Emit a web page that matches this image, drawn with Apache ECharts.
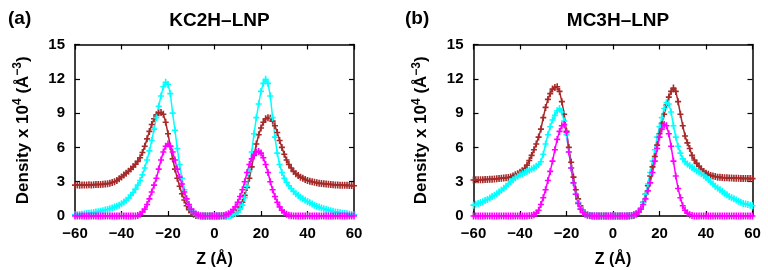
<!DOCTYPE html>
<html>
<head>
<meta charset="utf-8">
<script src="https://cdn.jsdelivr.net/npm/echarts@6/dist/echarts.min.js"></script>
<style>
  html, body { margin: 0; padding: 0; background: #fff; }
  #chart { width: 768px; height: 270px; }
</style>
</head>
<body>
<div id="chart"></div>
<script>
// Z positions (Å), one point per Å from -60 to 60
var zVals = [];
for (var i = -60; i <= 60; i++) zVals.push(i);

var xTicks = [-60, -40, -20, 0, 20, 40, 60];
var yTicks = [0, 3, 6, 9, 12, 15];
var panelTitles = ['KC2H\u2013LNP', 'MC3H\u2013LNP'];
var panelTags = ['(a)', '(b)'];

// panel (a) KC2H-LNP, density x 10^4
var aBrown = [
  2.70, 2.71, 2.70, 2.72, 2.71, 2.72, 2.73, 2.72, 2.74, 2.75,
  2.75, 2.76, 2.78, 2.80, 2.83, 2.87, 2.93, 3.00, 3.10, 3.25,
  3.42, 3.58, 3.75, 3.92, 4.10, 4.30, 4.52, 4.78, 5.10, 5.55,
  6.10, 6.75, 7.40, 8.00, 8.50, 8.85, 9.02, 9.05, 8.90, 8.20,
  7.20, 6.10, 5.00, 4.10, 3.30, 2.60, 1.95, 1.40, 0.90, 0.55,
  0.30, 0.15, 0.05, 0.02, 0, 0, 0, 0, 0, 0,
  0, 0, 0, 0, 0, 0, 0.03, 0.08, 0.15, 0.30,
  0.50, 0.80, 1.20, 1.80, 2.50, 3.30, 4.30, 5.30, 6.30, 7.10,
  7.70, 8.20, 8.50, 8.60, 8.55, 8.30, 7.90, 7.30, 6.60, 6.00,
  5.40, 4.90, 4.50, 4.20, 3.90, 3.70, 3.55, 3.40, 3.30, 3.20,
  3.10, 3.05, 3.00, 2.95, 2.90, 2.87, 2.85, 2.82, 2.80, 2.78,
  2.75, 2.74, 2.72, 2.71, 2.70, 2.69, 2.68, 2.68, 2.67, 2.66, 2.65
];
var aCyan = [
  0.10, 0.12, 0.14, 0.16, 0.18, 0.21, 0.24, 0.27, 0.30, 0.34,
  0.38, 0.42, 0.47, 0.52, 0.57, 0.63, 0.70, 0.78, 0.86, 0.95,
  1.08, 1.22, 1.38, 1.58, 1.80, 2.05, 2.35, 2.70, 3.10, 3.60,
  4.20, 4.90, 5.70, 6.60, 7.60, 8.60, 9.60, 10.50, 11.30, 11.70,
  11.50, 10.70, 9.00, 7.50, 5.90, 4.50, 3.30, 2.30, 1.50, 0.95,
  0.55, 0.30, 0.15, 0.07, 0.03, 0, 0, 0, 0, 0,
  0, 0, 0, 0, 0, 0, 0.02, 0.05, 0.10, 0.20,
  0.35, 0.60, 0.95, 1.60, 2.60, 3.90, 5.60, 7.20, 8.60, 9.80,
  10.90, 11.60, 11.95, 11.60, 10.50, 8.60, 6.90, 5.50, 4.50, 3.80,
  3.30, 2.95, 2.65, 2.40, 2.15, 1.95, 1.80, 1.65, 1.50, 1.38,
  1.26, 1.15, 1.05, 0.95, 0.86, 0.78, 0.70, 0.63, 0.56, 0.50,
  0.45, 0.40, 0.36, 0.32, 0.28, 0.25, 0.22, 0.19, 0.16, 0.13, 0.10
];
var aMagenta = [
  0, 0, 0, 0, 0, 0, 0, 0, 0, 0,
  0, 0, 0, 0, 0, 0, 0, 0, 0, 0,
  0, 0, 0, 0, 0, 0, 0, 0.05, 0.15, 0.35,
  0.60, 1.00, 1.50, 2.10, 2.70, 3.30, 4.10, 4.90, 5.60, 6.10,
  6.30, 6.10, 5.60, 4.90, 4.10, 3.40, 2.80, 2.10, 1.50, 1.00,
  0.60, 0.35, 0.18, 0.08, 0.03, 0.01, 0, 0, 0, 0,
  0, 0, 0, 0.02, 0.05, 0.10, 0.20, 0.35, 0.55, 0.80,
  1.20, 1.70, 2.30, 3.00, 3.80, 4.50, 5.00, 5.40, 5.60, 5.65,
  5.50, 5.10, 4.50, 3.80, 3.00, 2.30, 1.70, 1.20, 0.80, 0.50,
  0.30, 0.15, 0.07, 0.03, 0.01, 0, 0, 0, 0, 0,
  0, 0, 0, 0, 0, 0, 0, 0, 0, 0,
  0, 0, 0, 0, 0, 0, 0, 0, 0, 0, 0
];

// panel (b) MC3H-LNP
var bBrown = [
  3.15, 3.16, 3.17, 3.17, 3.18, 3.19, 3.20, 3.21, 3.22, 3.24,
  3.26, 3.28, 3.30, 3.32, 3.34, 3.37, 3.42, 3.50, 3.60, 3.70,
  3.82, 3.95, 4.15, 4.45, 4.85, 5.30, 5.80, 6.30, 6.90, 7.60,
  8.60, 9.50, 10.20, 10.70, 11.10, 11.25, 11.30, 10.90, 10.00, 8.90,
  7.40, 6.00, 4.70, 3.40, 2.30, 1.50, 0.90, 0.50, 0.25, 0.12,
  0.05, 0.02, 0, 0, 0, 0, 0, 0, 0, 0,
  0, 0, 0, 0, 0, 0, 0, 0, 0.02, 0.05,
  0.15, 0.35, 0.70, 1.20, 1.90, 2.65, 3.50, 4.30, 5.20, 6.20,
  7.20, 8.10, 8.90, 9.70, 10.40, 10.90, 11.20, 10.90, 10.00, 8.90,
  7.90, 7.00, 6.40, 5.90, 5.30, 4.90, 4.60, 4.35, 4.10, 3.90,
  3.75, 3.65, 3.55, 3.50, 3.45, 3.40, 3.38, 3.36, 3.35, 3.34,
  3.33, 3.32, 3.31, 3.30, 3.30, 3.29, 3.29, 3.28, 3.28, 3.27, 3.27
];
var bCyan = [
  0.95, 1.02, 1.10, 1.17, 1.25, 1.35, 1.45, 1.57, 1.70, 1.82,
  1.95, 2.10, 2.25, 2.42, 2.60, 2.80, 3.00, 3.18, 3.35, 3.48,
  3.60, 3.70, 3.80, 3.90, 4.00, 4.10, 4.20, 4.35, 4.50, 4.75,
  5.40, 6.30, 7.10, 7.80, 8.40, 8.80, 9.20, 9.40, 9.10, 8.30,
  7.10, 5.60, 4.20, 2.90, 1.90, 1.20, 0.70, 0.40, 0.20, 0.10,
  0.05, 0.02, 0, 0, 0, 0, 0, 0, 0, 0,
  0, 0, 0, 0, 0, 0, 0, 0.02, 0.04, 0.10,
  0.20, 0.40, 0.70, 1.20, 1.90, 2.80, 3.80, 4.80, 5.80, 6.90,
  7.80, 8.60, 9.40, 9.90, 9.80, 9.10, 7.90, 6.90, 6.10, 5.50,
  5.00, 4.75, 4.55, 4.40, 4.25, 4.10, 3.95, 3.85, 3.70, 3.55,
  3.35, 3.20, 3.00, 2.80, 2.60, 2.45, 2.30, 2.15, 2.00, 1.85,
  1.70, 1.60, 1.50, 1.40, 1.30, 1.20, 1.10, 1.05, 1.00, 0.95, 0.90
];
var bMagenta = [
  0, 0, 0, 0, 0, 0, 0, 0, 0, 0,
  0, 0, 0, 0, 0, 0, 0, 0, 0, 0,
  0, 0, 0, 0, 0.02, 0.05, 0.12, 0.25, 0.50, 1.00,
  1.60, 2.30, 3.10, 3.90, 4.80, 5.80, 6.70, 7.40, 7.90, 8.00,
  7.30, 5.60, 4.20, 2.90, 1.90, 1.10, 0.60, 0.30, 0.15, 0.07,
  0.03, 0, 0, 0, 0, 0, 0, 0, 0, 0,
  0, 0, 0, 0, 0, 0, 0, 0.02, 0.05, 0.10,
  0.20, 0.35, 0.60, 1.00, 1.50, 2.20, 2.90, 3.80, 4.80, 5.90,
  6.90, 7.60, 8.00, 7.90, 7.20, 6.10, 4.80, 3.50, 2.40, 1.60,
  0.90, 0.50, 0.25, 0.10, 0.04, 0.01, 0, 0, 0, 0,
  0, 0, 0, 0, 0, 0, 0, 0, 0, 0,
  0, 0, 0, 0, 0, 0, 0, 0, 0, 0, 0
];

var FONT = '"Liberation Sans", Arial, Helvetica, sans-serif';
// plus marker with a slightly longer vertical arm (error bar look)
var plusSymbol = 'path://M2.2,0H3.8V2.7H6V4.3H3.8V7H2.2V4.3H0V2.7H2.2Z';
var colors = { brown: '#a52a2a', cyan: '#00ffff', magenta: '#ff00ff' };

// grid positions for the two panels
var grids = [
  { left: 75, top: 44.5, width: 279, height: 171.5 },
  { left: 473.5, top: 44.5, width: 279, height: 171.5 }
];

function pairs(ys) {
  return zVals.map(function (z, i) { return [z, ys[i]]; });
}

function fmtMinus(v) {
  return v < 0 ? '\u2212' + Math.abs(v) : String(v);
}

var frameLine = { show: true, onZero: false, lineStyle: { color: '#000', width: 1.5 } };
var tickIn = { show: true, inside: true, length: 5, lineStyle: { color: '#000', width: 1.2 } };
var labelStyle = { color: '#000', fontFamily: FONT, fontWeight: 'bold', fontSize: 15 };

var xAxes = [], yAxes = [], series = [], titles = [];
[0, 1].forEach(function (g) {
  xAxes.push({
    type: 'value', gridIndex: g, position: 'bottom', min: -60, max: 60, interval: 20,
    axisLine: frameLine, axisTick: tickIn, splitLine: { show: false },
    axisLabel: Object.assign({ margin: 10, formatter: fmtMinus }, labelStyle),
    name: 'Z (\u00c5)', nameLocation: 'middle', nameGap: 36,
    nameTextStyle: { color: '#000', fontFamily: FONT, fontWeight: 'bold', fontSize: 16 }
  });
  yAxes.push({
    type: 'value', gridIndex: g, position: 'left', min: 0, max: 15, interval: 3,
    axisLine: frameLine, axisTick: tickIn, splitLine: { show: false },
    axisLabel: Object.assign({ margin: 10 }, labelStyle),
    name: 'Density x 10{s|4} (\u00c5{s|\u22123})', nameLocation: 'middle', nameGap: 41,
    nameTextStyle: {
      color: '#000', fontFamily: FONT, fontWeight: 'bold', fontSize: 17, lineHeight: 22,
      rich: { s: { fontFamily: FONT, fontWeight: 'bold', fontSize: 12, verticalAlign: 'top', lineHeight: 22, color: '#000' } }
    }
  });
});
// mirrored top / right axes (gnuplot style frame)
[0, 1].forEach(function (g) {
  xAxes.push({
    type: 'value', gridIndex: g, position: 'top', min: -60, max: 60, interval: 20,
    axisLine: frameLine, axisTick: tickIn, axisLabel: { show: false }, splitLine: { show: false }
  });
  yAxes.push({
    type: 'value', gridIndex: g, position: 'right', min: 0, max: 15, interval: 3,
    axisLine: frameLine, axisTick: tickIn, axisLabel: { show: false }, splitLine: { show: false }
  });
});

var panelData = [
  [aBrown, aCyan, aMagenta],
  [bBrown, bCyan, bMagenta]
];
var panelColors = [colors.brown, colors.cyan, colors.magenta];
[0, 1].forEach(function (g) {
  panelData[g].forEach(function (ys, k) {
    series.push({
      type: 'line', xAxisIndex: g, yAxisIndex: g, data: pairs(ys),
      symbol: plusSymbol, symbolSize: [6, 7], showSymbol: true,
      itemStyle: { color: panelColors[k] },
      lineStyle: { color: panelColors[k], width: 1.5 },
      silent: true
    });
  });
  titles.push({
    text: panelTitles[g], left: grids[g].left + grids[g].width / 2, top: 6, textAlign: 'center',
    textStyle: { color: '#000', fontFamily: FONT, fontWeight: 'bold', fontSize: 19 }
  });
  titles.push({
    text: panelTags[g], left: g === 0 ? 3 : 400, top: 4,
    textStyle: { color: '#000', fontFamily: FONT, fontWeight: 'bold', fontSize: 19 }
  });
});

var chart = echarts.init(document.getElementById('chart'), null, { renderer: 'canvas' });
chart.setOption({
  animation: false,
  backgroundColor: '#fff',
  title: titles,
  grid: grids.map(function (g) { return Object.assign({ outerBoundsMode: 'none' }, g); }),
  xAxis: xAxes,
  yAxis: yAxes,
  series: series
});
</script>
</body>
</html>
